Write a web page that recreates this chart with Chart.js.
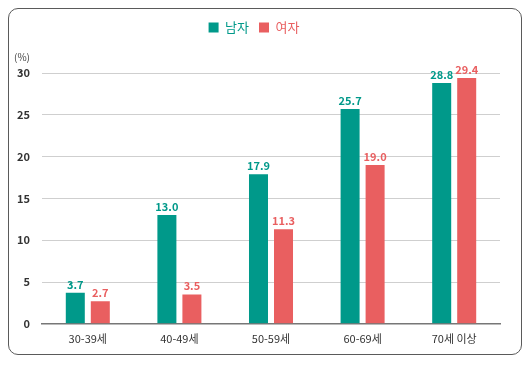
<!DOCTYPE html>
<html>
<head>
<meta charset="utf-8">
<script src="https://cdn.jsdelivr.net/npm/chart.js@4"></script>
<style>
  html, body { margin: 0; padding: 0; background: #fff; }
  #wrap { position: relative; width: 532px; height: 365px; }
  #frame {
    position: absolute; left: 8px; top: 8px; width: 514px; height: 347px;
    border: 1.3px solid #5a5a5a; border-radius: 10px; box-sizing: border-box;
  }
  canvas { position: absolute; left: 0; top: 0; }
</style>
</head>
<body>
<div id="wrap">
  <div id="frame"></div>
  <canvas id="chart" width="532" height="365"></canvas>
</div>
<script>
const ages = ["30-39세", "40-49세", "50-59세", "60-69세", "70세 이상"];
const men = [3.7, 13.0, 17.9, 25.7, 28.8];
const women = [2.7, 3.5, 11.3, 19.0, 29.4];
const TEAL = "#00998a";
const RED = "#e95f60";
const FONT = "'Noto Sans CJK KR', 'Noto Sans', sans-serif";

// push the plot down below the legend
const legendSpace = {
  id: "legendSpace",
  beforeInit(chart) {
    const fit = chart.legend.fit;
    chart.legend.fit = function () {
      fit.call(this);
      this.height += 29;
    };
  },
};

// value labels above bars + the (%) unit
const valueLabels = {
  id: "valueLabels",
  afterDatasetsDraw(chart) {
    const ctx = chart.ctx;
    ctx.save();
    ctx.font = "bold 11px " + FONT;
    ctx.textAlign = "center";
    ctx.textBaseline = "bottom";
    chart.data.datasets.forEach((ds, i) => {
      chart.getDatasetMeta(i).data.forEach((bar, j) => {
        ctx.fillStyle = ds.backgroundColor;
        ctx.fillText(ds.data[j].toFixed(1), bar.x, bar.y - 3);
      });
    });
    ctx.font = "10px " + FONT;
    ctx.fillStyle = "#444";
    ctx.textAlign = "left";
    ctx.textBaseline = "middle";
    ctx.fillText("(%)", 14, 57);
    ctx.restore();
  },
};

new Chart(document.getElementById("chart"), {
  type: "bar",
  data: {
    labels: ages,
    datasets: [
      { label: "남자", data: men, backgroundColor: TEAL },
      { label: "여자", data: women, backgroundColor: RED },
    ],
  },
  options: {
    responsive: false,
    animation: false,
    categoryPercentage: 0.546,
    barPercentage: 0.76,
    layout: { padding: { left: 8, right: 32, top: 11, bottom: 12 } },
    plugins: {
      tooltip: { enabled: false },
      legend: {
        position: "top",
        labels: {
          boxWidth: 10,
          boxHeight: 10,
          padding: 10,
          font: { family: FONT, size: 13 },
          generateLabels(chart) {
            return chart.data.datasets.map((ds, i) => ({
              text: ds.label,
              fillStyle: ds.backgroundColor,
              strokeStyle: ds.backgroundColor,
              lineWidth: 0,
              fontColor: ds.backgroundColor,
              datasetIndex: i,
            }));
          },
        },
      },
    },
    scales: {
      x: {
        grid: { display: false, drawTicks: false },
        border: { color: "#777", width: 1.5 },
        ticks: { color: "#333", padding: 8, font: { family: FONT, size: 11 } },
      },
      y: {
        min: 0,
        max: 30,
        afterFit(scale) { scale.width = 34; },
        ticks: {
          stepSize: 5,
          color: "#333",
          padding: 12,
          font: { family: FONT, size: 11, weight: "600" },
        },
        grid: { color: "#cfcfcf", drawTicks: false },
        border: { display: false },
      },
    },
  },
  plugins: [legendSpace, valueLabels],
});
</script>
</body>
</html>
